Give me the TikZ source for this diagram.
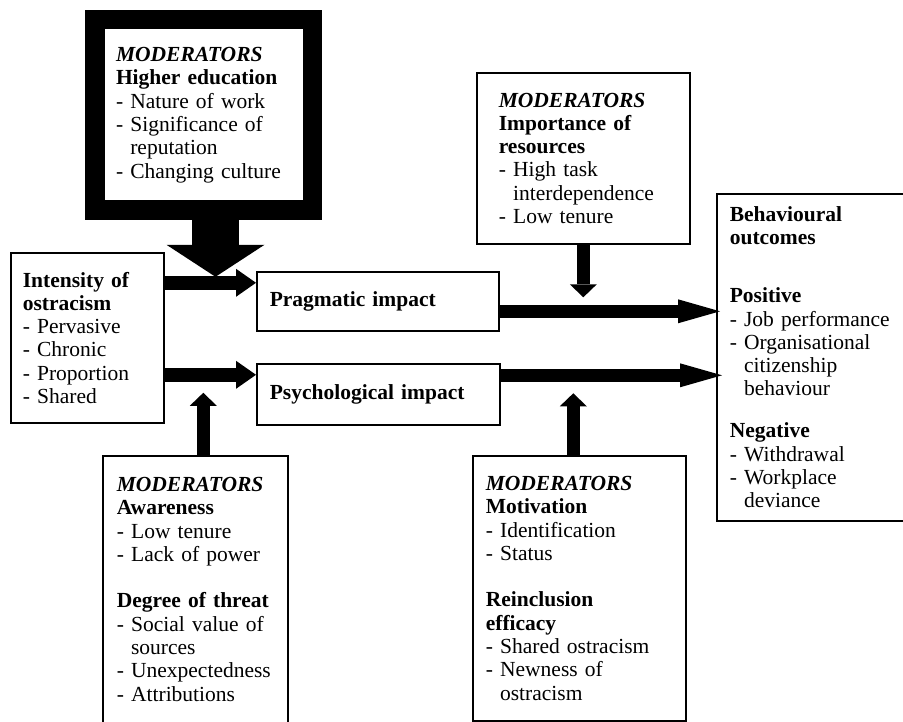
\documentclass[tikz,border=0pt]{standalone}
\usepackage{fontspec}
\setmainfont{Liberation Serif}
\usepackage{tikz}
\usetikzlibrary{positioning,arrows.meta}

\newcommand{\modhead}{\textbf{\textit{MODERATORS}}}
\newcommand{\ind}{\phantom{- }}

\begin{document}
\begin{tikzpicture}[
  x=1pt, y=1pt,
  font=\fontsize{21.5}{23.3}\selectfont,
  box/.style      = {draw, line width=1.6pt, align=left, anchor=north west},
  heavybox/.style = {box, line width=19.5pt},
  bigflow/.style  = {-{Triangle[length=32pt,width=98pt,line width=0pt]}, line width=47pt},
  shortflow/.style= {-{Triangle[length=20pt,width=28pt,line width=0pt]}, line width=14pt},
  longflow/.style = {-{Triangle[length=42pt,width=24pt,line width=0pt]}, line width=13pt},
  modflow/.style  = {-{Triangle[length=13pt,width=27pt,line width=0pt]}, line width=13pt},
]
\useasboundingbox (0,0) rectangle (903,-722);
\clip (0,0) rectangle (903,-722);

% ---------- left side ----------
\node[heavybox, inner xsep=21.25pt, text width=175pt, minimum height=190.5pt]
      (modhe) at (85,-10) {\modhead\\
                           \textbf{Higher education}\\
                           - Nature of work\\
                           - Significance of\\
                           \ind reputation\\
                           - Changing culture};
\node[box, inner xsep=12pt, text width=129pt, minimum height=170pt]
      (intensity) at (10,-252) {\textbf{Intensity of}\\
                                \textbf{ostracism}\\
                                - Pervasive\\
                                - Chronic\\
                                - Proportion\\
                                - Shared};
\node[box, inner xsep=14pt, text width=157pt, minimum height=290pt]
      (aware) at (102,-455) {\modhead\\
                             \textbf{Awareness}\\
                             - Low tenure\\
                             - Lack of power\\[23.3pt]
                             \textbf{Degree of threat}\\
                             - Social value of\\
                             \ind sources\\
                             - Unexpectedness\\
                             - Attributions\\
                             \mbox{}};

% ---------- impacts ----------
\node[box, inner xsep=13pt, text width=216pt, minimum height=59pt]
      (prag) at (256,-271) {\textbf{Pragmatic impact}};
\node[box, inner xsep=13pt, text width=217pt, minimum height=61pt]
      (psych) at (256,-363) {\textbf{Psychological impact}};

% ---------- right side ----------
\node[box, inner xsep=22pt, text width=169pt, minimum height=171pt]
      (imp) at (476,-72) {\modhead\\
                          \textbf{Importance of}\\
                          \textbf{resources}\\
                          - High task\\
                          \ind interdependence\\
                          - Low tenure};
\node[box, inner xsep=13pt, text width=187pt, minimum height=265pt]
      (motiv) at (472,-455) {\modhead\\
                             \textbf{Motivation}\\
                             - Identification\\
                             - Status\\[23pt]
                             \textbf{Reinclusion}\\
                             \textbf{efficacy}\\
                             - Shared ostracism\\
                             - Newness of\\
                             \ind ostracism};
\node[box, inner xsep=13pt, text width=185pt, minimum height=327pt]
      (behav) at (716,-193) {\textbf{Behavioural}\\
                             \textbf{outcomes}\\[34.7pt]
                             \textbf{Positive}\\
                             - Job performance\\
                             - Organisational\\
                             \ind citizenship\\
                             \ind behaviour\\[18.7pt]
                             \textbf{Negative}\\
                             - Withdrawal\\
                             - Workplace\\
                             \ind deviance};

% ---------- arrows ----------
\draw[shortflow] ([yshift=55pt]intensity.east) coordinate (pragin) -- (pragin -| prag.west);
\draw[shortflow] ([yshift=-37pt]intensity.east) coordinate (psychin) -- (psychin -| psych.west);
\draw[longflow] ([yshift=-10pt]prag.east) coordinate (pragout) -- ([xshift=4pt]pragout -| behav.west);
\draw[longflow] ([yshift=19pt]psych.east) coordinate (psychout) -- ([xshift=6pt]psychout -| behav.west);

\draw[bigflow] ([xshift=12pt]modhe.south) -- ([xshift=12pt,yshift=6pt]modhe.south |- pragin);
\draw[modflow] (imp.south) -- ([yshift=14pt]imp.south |- pragout);
\draw[modflow] ([xshift=8pt]aware.north) -- ([xshift=8pt,yshift=-18pt]aware.north |- psychin);
\draw[modflow] ([xshift=-6pt]motiv.north) -- ([xshift=-6pt,yshift=-18pt]motiv.north |- psychout);

\end{tikzpicture}
\end{document}
